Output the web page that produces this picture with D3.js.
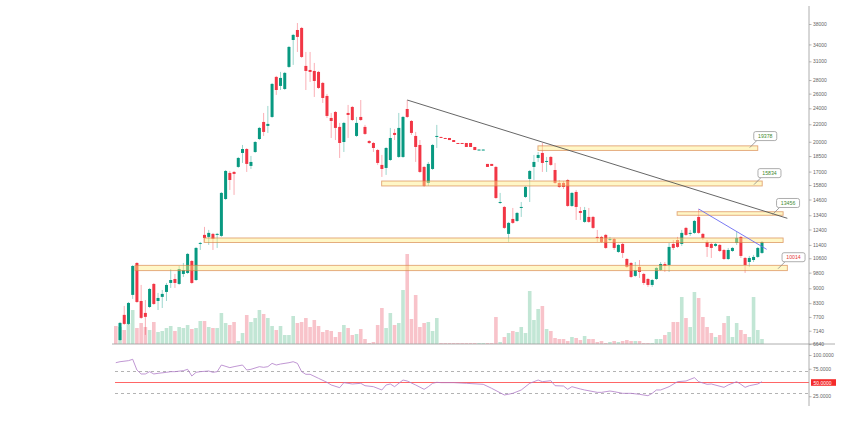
<!DOCTYPE html>
<html><head><meta charset="utf-8">
<script src="https://cdn.jsdelivr.net/npm/d3@7"></script>
<style>body{margin:0;background:#fff}svg{display:block}</style>
</head><body>
<svg id="chart" width="860" height="433"></svg>
<script>
// ---------- DATA ----------
const opens = [null,6790,7786,7412,8682,10332,8399,7870,8129,9216,8399,8588,8823,9266,9469,9216,9732,9785,10444,9416,11462,12040,11908,12106,12040,11974,14642,16877,16968,17438,18817,19227,17534,18918,20304,22282,21806,22898,28481,27116,26669,30075,34830,36780,37190,30240,29580,29423,29266,27563,25674,22772,23528,21687,19976,23402,24179,20646,22898,21687,20083,19869,19120,17630,17342,18110,20988,18413,18413,23913,22401,20646,19655,17438,15982,17246,20532,20532,20418,20418,20190,19869,19869,19869,19869,19441,19120,19120,17726,17726,17438,14329,14021,12106,13133,12991,13982,14806,16331,17438,18312,18817,17966,18413,17150,15982,15982,16240,14098,15216,13717,12922,13279,13279,11908,11908,12040,11743,11776,10972,11462,10559,10332,9628,10112,9732,9469,9166,9469,9944,10276,10220,11462,11710,11462,12508,12139,12172,13279,12106,11586,11462,11338,11400,11090,10559,11031,11524,11908,10618,10388,10500,10677,10913];
const highs = [null,7492,8174,8354,10220,10380,9166,8444,9017,9266,8776,8917,9266,9997,9732,10164,10332,10913,10500,11276,11586,12577,12370,12172,12172,15216,17150,17059,17059,18413,19655,19334,18514,20083,21687,23402,24312,27563,28638,29266,29266,33720,36000,38206,37396,32630,32630,30735,29423,27712,25956,23402,23654,22163,22282,24445,24312,22898,25110,21925,20190,19976,19227,18614,19441,21568,21449,23402,23024,25110,22520,21102,20190,17534,17918,19762,21925,20560,20440,20418,20190,19869,19869,19869,19869,19441,19170,19170,17726,17726,17534,15134,14098,12922,13944,13644,14406,15724,17150,18614,18918,19869,18413,18514,17822,16240,16154,16331,15216,15380,14021,14021,13944,13352,12370,11974,12106,11908,11842,11462,11524,10618,10388,10388,10500,9785,9522,9469,10112,10388,10388,11524,11710,11908,12370,12577,12370,13060,13866,12172,11710,11524,11524,11462,11152,11214,11276,12239,11974,10677,10736,10795,11276,11648];
const lows = [null,6752,7372,7372,8494,8309,7614,6980,8084,8219,7996,8084,8399,9017,9017,9166,9575,9732,9216,9366,11090,11586,11400,11090,11214,11908,14560,15380,14970,17342,17822,16968,17246,18817,20190,20646,20988,22772,25815,26520,26520,29910,30405,32630,31580,26520,27712,25533,26669,24712,22772,20418,20190,18312,18918,20418,22401,20532,22401,20760,19762,18918,17630,16513,16695,18014,20190,18312,18312,22772,20760,17918,16877,15638,15724,17150,19334,20475,20361,20190,19976,19820,19820,19441,19441,19120,19120,19120,17438,17534,14642,14252,12439,11586,12784,12922,13279,14724,14406,16240,17918,16968,16968,17534,15896,15552,15466,14021,14021,13060,13060,12853,12853,12439,11586,11524,11152,11648,11090,10913,10618,10056,9522,9575,9522,9166,9067,9067,9416,9891,9838,9838,11090,11214,11338,11974,11974,12106,12106,11710,10677,10618,11276,10972,10500,10500,10972,11400,10618,9785,10112,10388,10618,10854];
const closes = [null,7452,7412,8309,10164,8354,7660,7702,8967,8264,8538,8729,9166,9416,9266,9997,9944,10854,9266,11214,11524,11842,12172,11776,12106,15134,17059,16240,16786,18312,19227,17726,17918,19976,21568,21102,22044,27414,26520,28324,29109,33535,35805,35415,31755,29423,29266,27861,26818,25392,23024,22401,21568,19869,22163,23150,22520,22163,22520,20874,19869,19334,17822,17246,19334,20418,20760,21568,22898,22898,20988,19441,16968,15724,17726,19655,20646,20475,20361,20190,19976,19820,19820,19441,19441,19120,19170,19170,17438,17534,14724,14406,12508,12853,12853,13571,14021,15638,17059,17918,18614,17822,18014,17630,15982,15638,15638,14098,15134,14021,13571,13790,12922,12508,11875,11586,11214,11776,11214,11400,10913,10112,9575,9944,9838,9266,9166,9416,10056,10276,10164,11276,11214,11276,12172,12040,12172,12991,12172,11842,11276,11214,11462,11031,10559,11090,11214,11842,10736,10220,10618,10677,11214,11586];
const volumes = [18,17,14,21,34,16,21,17,14,22,12,13,16,18,13,17,16,19,15,16,23,23,17,16,16,31,21,19,22,3,11,29,22,26,34,30,26,18,14,18,9,9,28,21,22,26,17,24,18,12,14,13,7,12,19,16,9,10,15,5,1,2,19,36,16,31,19,21,54,90,25,49,17,21,22,13,26,1,1,1,1,1,1,1,1,1,1,1,1,1,27,2,7,11,13,12,17,11,53,24,35,38,15,13,6,5,5,3,7,6,4,8,5,5,2,3,1,2,3,2,3,4,3,3,3,1,1,1,5,5,9,12,22,22,47,26,17,52,46,27,17,11,7,9,21,28,7,21,14,10,7,47,14,5];

// RSI(14) readings: bar index and value
const rsiIndex = [0,1,3,4,5,6,7,8,9,10,12,13,14,16,17,18,19,20,22,23,24,25,27,28,30,31,32,34,35,36,37,38,39,41,42,43,44,45,46,48,50,51,53,54,56,58,59,61,63,64,65,66,68,69,71,73,74,75,76,77,80,83,87,89,92,94,96,98,100,101,103,104,106,107,108,110,111,114,115,117,118,120,122,124,126,127,128,129,131,133,135,137,138,140,141,144,145,147,148,149,150,152,153];
const rsiValue = [86,87.8,89.7,92.2,72.7,65.5,65.5,69.7,65.5,66.7,68.5,69.7,69.7,71.5,74,61.8,68.5,69.7,70.9,68.5,69.7,81.8,77,78.8,81.8,72.7,74,78.8,77.6,78.8,84.8,81.8,83.6,86,87.8,84.8,69.7,64.9,64.9,57.6,50.3,45.5,40.6,49.7,47.3,48.5,44.2,42.4,36.4,45.5,47.3,42.4,54.5,52.7,45.5,37.6,42.4,48.5,50.3,49.7,49.7,48.5,46.7,39.4,27.3,30.3,36.4,48.5,54.5,51.5,53.3,44.2,43.6,37.6,42.4,38.2,36.4,32.1,32.1,34.5,33.3,30.3,30.3,28.5,26,30.3,36.4,36.4,42.4,51.5,52.7,58.8,51.5,46.7,47.3,41.2,45.5,51.5,46.7,41.2,44.2,47.3,51.5];

const priceTicks = [38000,34000,31000,28000,26000,24000,22000,20000,18500,17000,15800,14600,13400,12400,11400,10600,9800,9000,8300,7700,7140,6640];
const rsiTicks = [100,75,50,25];
const rsiLevels = [70,30];
const rsiMid = 50;

// horizontal zones (price low/high, from bar / to bar)
const zoneLow  = [19080,15720,13400,11550,9910];
const zoneHigh = [19560,16150,13660,11840,10200];
const zoneFrom = [99.95,62.95,132.9,20.9,4.55];
const zoneTo   = [152.0,153.05,158.0,158.0,159.0];

// price tags
const tagValue = [19378,15834,13456,10014];
const tagBar   = [150.1,151.1,155.5,156.8];
const tagUp    = [true,true,true,false];

// trend lines
const trendFromBar = [69,138], trendFromVal = [25110,13866];
const trendToBar   = [159.0,154.1], trendToVal = [13180,11130];
const trendColor   = ["#555","#6b6bf2"];

// ---------- DRAWING ----------
const svg = d3.select("#chart");
const n = opens.length;
const x = d3.scaleLinear().domain([0, n-1]).range([115.8, 762]);
const y = d3.scaleLog().domain([6640, 38000]).range([344.1, 24]);
const v = d3.scaleLinear().domain([0, 100]).range([344, 244]);
const r = d3.scaleLinear().domain([0, 100]).range([410, 355]);
const axisX = 809;

const UP = "#089981", DN = "#f23645";
const idx = d3.range(n);
const isUp = i => closes[i] != null ? closes[i] >= opens[i] : false;

svg.append("defs").append("clipPath").attr("id","pp")
  .append("rect").attr("x",110).attr("y",0).attr("width",axisX-110).attr("height",344);

const pane = svg.append("g").attr("clip-path","url(#pp)");

// volume
pane.append("g").selectAll("rect").data(idx).join("rect")
  .attr("x", i => x(i) - 1.8).attr("width", 3.6)
  .attr("y", i => v(volumes[i])).attr("height", i => v(0) - v(volumes[i]))
  .attr("fill", i => isUp(i) ? "#c2e6d5" : "#f8c3ca");

// candles
const cd = idx.filter(i => opens[i] != null);
pane.append("g").selectAll("line").data(cd).join("line")
  .attr("x1", i => x(i)).attr("x2", i => x(i))
  .attr("y1", i => y(highs[i])).attr("y2", i => y(lows[i]))
  .attr("stroke", i => isUp(i) ? UP : DN).attr("stroke-opacity", 0.4).attr("stroke-width", 1);
pane.append("g").selectAll("rect").data(cd).join("rect")
  .attr("x", i => x(i) - 1.5).attr("width", 3)
  .attr("y", i => Math.min(y(opens[i]), y(closes[i])))
  .attr("height", i => Math.max(1, Math.abs(y(opens[i]) - y(closes[i]))))
  .attr("fill", i => isUp(i) ? UP : DN);

// zones
svg.append("g").selectAll("rect").data(d3.range(zoneLow.length)).join("rect")
  .attr("x", k => x(zoneFrom[k])).attr("width", k => x(zoneTo[k]) - x(zoneFrom[k]))
  .attr("y", k => y(zoneHigh[k])).attr("height", k => y(zoneLow[k]) - y(zoneHigh[k]))
  .attr("fill", "rgba(255,238,130,0.45)").attr("stroke", "rgba(214,128,70,0.7)").attr("stroke-width", 0.9);

// trend lines
svg.append("g").selectAll("line").data(d3.range(trendFromBar.length)).join("line")
  .attr("x1", k => x(trendFromBar[k])).attr("y1", k => y(trendFromVal[k]))
  .attr("x2", k => x(trendToBar[k])).attr("y2", k => y(trendToVal[k]))
  .attr("stroke", k => trendColor[k]).attr("stroke-width", 0.9);

// tags
const tg = svg.append("g").selectAll("g").data(d3.range(tagValue.length)).join("g")
  .attr("transform", k => `translate(${x(tagBar[k])},${y(tagValue[k])})`);
tg.append("line").attr("x1",0).attr("y1",0).attr("x2",7).attr("y2",-7).attr("stroke","#888").attr("stroke-width",0.8);
tg.append("rect").attr("x",4).attr("y",-16).attr("width",23).attr("height",9).attr("rx",2)
  .attr("fill","#fff").attr("stroke","#999").attr("stroke-width",0.8);
tg.append("text").attr("x",15.5).attr("y",-11.5).attr("text-anchor","middle").attr("dominant-baseline","central")
  .attr("font-family","Liberation Sans, Arial, sans-serif").attr("font-size",5.2)
  .attr("fill", k => tagUp[k] ? "#3f8a2f" : "#e53935").text(k => tagValue[k]);

// RSI pane
const rp = svg.append("g");
rp.selectAll("line.lv").data(rsiLevels).join("line").attr("class","lv")
  .attr("x1",115).attr("x2",axisX).attr("y1", d => r(d)).attr("y2", d => r(d))
  .attr("stroke","#aaa").attr("stroke-width",0.9).attr("stroke-dasharray","3,3");
rp.append("line").attr("x1",115).attr("x2",axisX).attr("y1",r(rsiMid)).attr("y2",r(rsiMid))
  .attr("stroke","#f66").attr("stroke-width",1);
rp.append("path").datum(d3.range(rsiIndex.length))
  .attr("d", d3.line().x(k => x(rsiIndex[k])).y(k => r(rsiValue[k])))
  .attr("fill","none").attr("stroke","#b07cc8").attr("stroke-width",0.8);

// separator + axis line
svg.append("line").attr("x1",112).attr("x2",835).attr("y1",344).attr("y2",344).attr("stroke","#999").attr("stroke-width",0.8);
svg.append("line").attr("x1",axisX).attr("x2",axisX).attr("y1",6).attr("y2",406).attr("stroke","#999").attr("stroke-width",0.8);

const font = "Liberation Sans, Arial, sans-serif";
const pa = svg.append("g").attr("transform",`translate(${axisX},0)`)
  .call(d3.axisRight(y).tickValues(priceTicks).tickFormat(d3.format("d")).tickSize(2.5).tickPadding(1.5));
const ra = svg.append("g").attr("transform",`translate(${axisX},0)`)
  .call(d3.axisRight(r).tickValues(rsiTicks).tickFormat(d3.format(".4f")).tickSize(2.5).tickPadding(1.5));
[pa, ra].forEach(a => {
  a.select(".domain").remove();
  a.selectAll(".tick line").attr("stroke","#999").attr("stroke-width",0.7);
  a.selectAll(".tick text").attr("font-family",font).attr("font-size",5).attr("fill","#666");
});
ra.selectAll(".tick").filter(d => d === rsiMid).remove();
svg.append("rect").attr("x",axisX+2).attr("y",r(rsiMid)-3.3).attr("width",25).attr("height",6.6).attr("fill","#f42b2b");
svg.append("text").attr("x",axisX+4.5).attr("y",r(rsiMid)).attr("dominant-baseline","central")
  .attr("font-family",font).attr("font-size",5).attr("fill","#fff").text(d3.format(".4f")(rsiMid));
</script>
</body></html>
